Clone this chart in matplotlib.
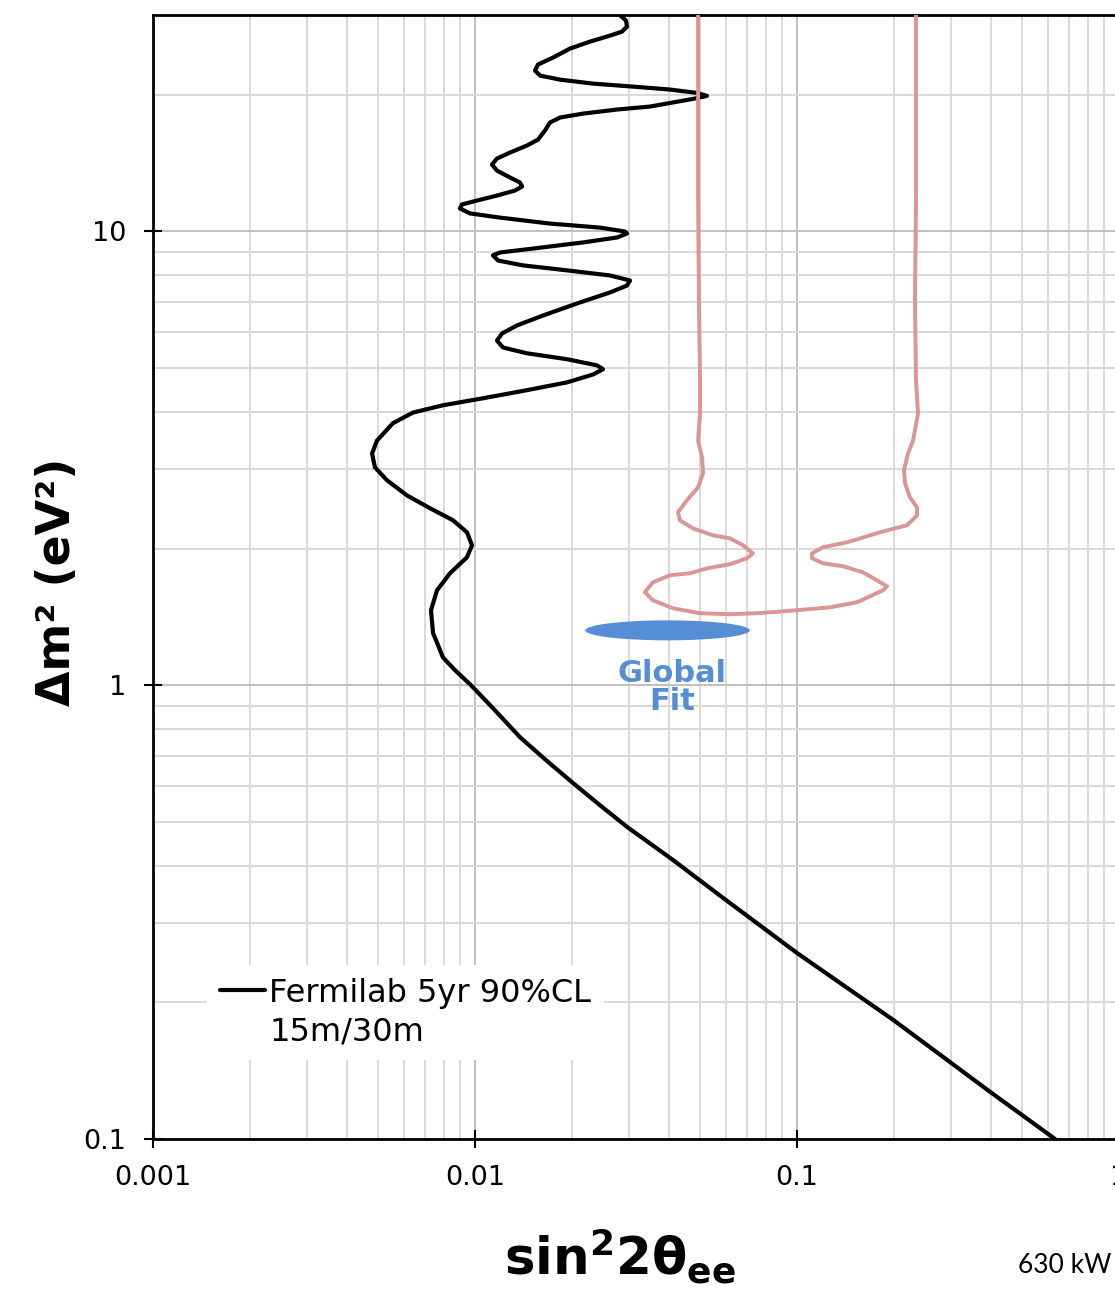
import numpy as np
import matplotlib.pyplot as plt
from matplotlib.lines import Line2D
from matplotlib.patches import Ellipse
from matplotlib.ticker import LogLocator, FixedLocator, FixedFormatter, NullFormatter

plt.rcParams['font.family'] = ['DejaVu Sans']
plt.rcParams['mathtext.fontset'] = 'custom'
plt.rcParams['mathtext.rm'] = 'DejaVu Sans:bold'
plt.rcParams['mathtext.it'] = 'DejaVu Sans:bold'
plt.rcParams['mathtext.bf'] = 'DejaVu Sans:bold'

# Fermilab 5yr 90% CL sensitivity (15m/30m baselines), top to bottom
fermilab_sin2 = [0.02820, 0.02944, 0.02965, 0.02861, 0.02626, 0.02276, 0.01972, 0.01747, 0.01569, 0.01536,
                 0.01592, 0.01837, 0.02325, 0.03096, 0.04033, 0.04891, 0.05254, 0.04753, 0.03495, 0.02761,
                 0.02165, 0.01837, 0.01709, 0.01649, 0.01569, 0.01450, 0.01285, 0.01170, 0.01129, 0.01170,
                 0.01285, 0.01380, 0.01400, 0.01331, 0.01170, 0.01014, 0.00911, 0.00898, 0.00965, 0.01196,
                 0.01709, 0.02444, 0.02922, 0.02965, 0.02761, 0.02165, 0.01514, 0.01196, 0.01137, 0.01179,
                 0.01410, 0.01931, 0.02626, 0.03030, 0.02965, 0.02626, 0.02074, 0.01627, 0.01351, 0.01213,
                 0.01170, 0.01222, 0.01450, 0.01931, 0.02393, 0.02497, 0.02325, 0.01931, 0.01450, 0.01059,
                 0.00795, 0.00642, 0.00556, 0.00496, 0.00479, 0.00489, 0.00533, 0.00615, 0.00725, 0.00855,
                 0.00944, 0.00979, 0.00944, 0.00836, 0.00762, 0.00730, 0.00741, 0.00768, 0.00795, 0.00867,
                 0.00972, 0.01146, 0.0138, 0.01661, 0.0202, 0.02444, 0.0297, 0.0412, 0.0589, 0.100,
                 0.199, 0.398, 0.633]
fermilab_dm2 = [30.0, 29.16, 28.28, 27.57, 27.02, 26.21, 25.30, 24.17, 23.33, 22.63,
                22.06, 21.61, 21.18, 20.86, 20.55, 20.2, 19.9, 19.6, 18.85, 18.57,
                18.19, 17.83, 17.38, 16.69, 15.94, 15.47, 14.93, 14.48, 14.05, 13.62,
                13.15, 12.82, 12.56, 12.31, 12.00, 11.70, 11.47, 11.24, 10.96, 10.73,
                10.41, 10.20, 10.0, 9.90, 9.70, 9.46, 9.17, 8.99, 8.86, 8.63,
                8.42, 8.21, 8.00, 7.80, 7.60, 7.34, 6.94, 6.53, 6.21, 5.96,
                5.75, 5.55, 5.39, 5.23, 5.07, 4.97, 4.84, 4.65, 4.47, 4.29,
                4.14, 3.99, 3.78, 3.46, 3.24, 3.02, 2.83, 2.62, 2.455, 2.309,
                2.173, 2.034, 1.914, 1.765, 1.619, 1.463, 1.302, 1.225, 1.152, 1.079,
                1.000, 0.885, 0.768, 0.684, 0.608, 0.544, 0.487, 0.412, 0.340, 0.257,
                0.183, 0.127, 0.100]

# allowed-region contour (pink), left edge down, round the bottom, right edge up
contour_sin2 = [0.0493, 0.0493, 0.0496, 0.0500, 0.0500, 0.0493, 0.0507, 0.0511, 0.0493, 0.0455,
                0.0427, 0.0433, 0.0475, 0.0548, 0.0619, 0.0680, 0.0730, 0.0699, 0.0619, 0.0525,
                0.0465, 0.0403, 0.0357, 0.0337, 0.0357, 0.0412, 0.0500, 0.0619, 0.0751, 0.0905,
                0.1266, 0.1536, 0.1850, 0.1904, 0.1772, 0.1603, 0.1390, 0.1204, 0.1113, 0.1113,
                0.1204, 0.1430, 0.1810, 0.2196, 0.2359, 0.2359, 0.2243, 0.2165, 0.2149, 0.2212,
                0.2292, 0.2376, 0.2342, 0.2325, 0.2342, 0.2342]
contour_dm2 = [30.0, 11.7, 7.05, 4.70, 3.97, 3.46, 3.178, 2.931, 2.73, 2.556,
               2.405, 2.309, 2.217, 2.140, 2.108, 2.034, 1.953, 1.905, 1.848, 1.810,
               1.765, 1.747, 1.686, 1.603, 1.539, 1.478, 1.441, 1.434, 1.441, 1.455,
               1.485, 1.524, 1.619, 1.652, 1.703, 1.774, 1.829, 1.857, 1.905, 1.953,
               2.014, 2.065, 2.173, 2.252, 2.368, 2.466, 2.595, 2.786, 2.98, 3.24,
               3.46, 3.97, 4.70, 7.05, 11.7, 30.0]

# global fit best region
global_fit_sin2 = (0.0220, 0.0714)
global_fit_dm2 = (1.256, 1.39)

x_ticks = [0.001, 0.01, 0.1, 1]
x_ticklabels = ['0.001', '0.01', '0.1', '1']
y_ticks = [0.1, 1, 10]
y_ticklabels = ['0.1', '1', '10']

fig = plt.figure(figsize=(11.15, 12.92), dpi=100)
ax = fig.add_axes([153 / 1115, 1 - 1139 / 1292, 966 / 1115, 1124 / 1292])
ax.set_xscale('log')
ax.set_yscale('log')
ax.set_xlim(0.001, 1)
ax.set_ylim(0.1, 30)

ax.xaxis.set_major_locator(FixedLocator(x_ticks))
ax.xaxis.set_major_formatter(FixedFormatter(x_ticklabels))
ax.yaxis.set_major_locator(FixedLocator(y_ticks))
ax.yaxis.set_major_formatter(FixedFormatter(y_ticklabels))
ax.xaxis.set_minor_locator(LogLocator(base=10, subs=np.arange(2, 10)))
ax.yaxis.set_minor_locator(LogLocator(base=10, subs=np.arange(2, 10)))
ax.xaxis.set_minor_formatter(NullFormatter())
ax.yaxis.set_minor_formatter(NullFormatter())

ax.set_axisbelow(True)
ax.grid(which='minor', color='#d9d9d9', lw=1.4)
ax.grid(which='major', color='#c0c0c0', lw=1.4)
ax.tick_params(which='major', direction='inout', length=13, width=1.5,
               labelsize=19.5, colors='black')
ax.tick_params(axis='x', which='major', pad=12)
ax.tick_params(axis='y', which='major', pad=13)
ax.tick_params(which='minor', length=0)
for side in ['left', 'bottom', 'top', 'right']:
    ax.spines[side].set_linewidth(2)

line, = ax.plot(fermilab_sin2, fermilab_dm2, color='black', lw=3, solid_joinstyle='round',
                solid_capstyle='round', zorder=3)
ax.plot(contour_sin2, contour_dm2, color='#d99694', lw=2.8, solid_joinstyle='round', zorder=4)

# ellipse for the global fit, drawn in axes fraction so it stays elliptical in log space
to_axes = ax.transData + ax.transAxes.inverted()
(x0, y0) = to_axes.transform((global_fit_sin2[0], global_fit_dm2[0]))
(x1, y1) = to_axes.transform((global_fit_sin2[1], global_fit_dm2[1]))
ax.add_patch(Ellipse(((x0 + x1) / 2, (y0 + y1) / 2), x1 - x0, y1 - y0,
                     transform=ax.transAxes, facecolor='#558ed5', edgecolor='none', zorder=5))
ax.text(0.0409, 0.99, 'Global\nFit', ha='center', va='center', color='#558ed5',
        fontsize=22, fontweight='bold', linespacing=0.95, zorder=6)

# second legend row carries the baseline text under the first, with no handle
blank = Line2D([], [], linestyle='none')
leg = ax.legend([line, blank], ['Fermilab 5yr 90%CL', '15m/30m'], loc='upper left',
                bbox_to_anchor=(0.056, 0.155), frameon=True, facecolor='white',
                edgecolor='none', framealpha=1, fancybox=False, fontsize=23,
                handlelength=1.4, handletextpad=0.15, borderpad=0.4, labelspacing=0.25,
                borderaxespad=0)
leg.set_zorder(7)

ax.set_xlabel(r'$\mathrm{sin}^{2}2\theta_{ee}$', fontsize=37)
ax.xaxis.set_label_coords(0.483, -0.078)
ax.set_ylabel('Δm² (eV²)', fontsize=33, fontweight='bold')
ax.yaxis.set_label_coords(-0.076, 0.496)

fig.text(1018 / 1115, 1 - 1273 / 1292, '630 kW', fontsize=19, family='Lato', ha='left', va='baseline')

fig.savefig('out.png', dpi=100)
